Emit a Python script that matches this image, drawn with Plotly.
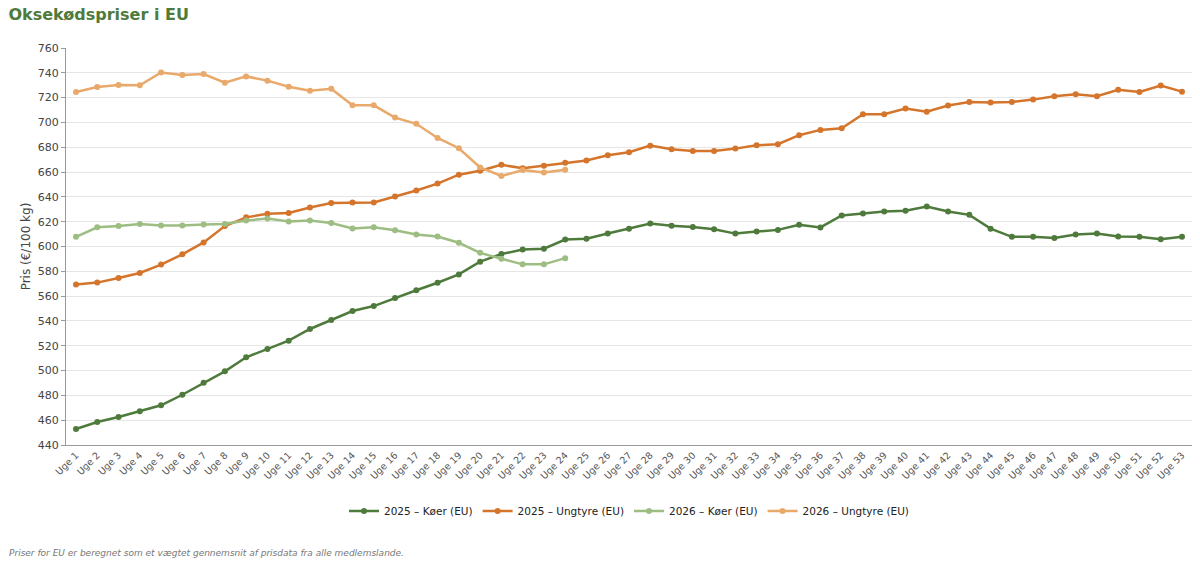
import plotly.graph_objects as go

weeks = [f"Uge {i}" for i in range(1, 54)]

koer_2025 = [452.9, 458.5, 462.6, 467.2, 472.0, 480.5, 490.2, 499.4, 510.7, 517.4,
             524.1, 533.5, 540.8, 548.0, 552.0, 558.5, 564.7, 570.8, 577.5, 587.8,
             593.9, 597.5, 598.2, 605.6, 606.3, 610.5, 614.3, 618.6, 616.7, 615.8,
             613.9, 610.4, 612.0, 613.4, 617.5, 615.4, 625.0, 626.5, 628.3, 628.9,
             632.3, 628.2, 625.5, 614.4, 607.8, 607.8, 606.9, 609.6, 610.4, 608.0,
             607.9, 605.8, 607.9]

ungtyre_2025 = [569.3, 570.9, 574.6, 578.7, 585.4, 593.7, 603.3, 616.5, 623.5, 626.4,
                627.0, 631.5, 635.0, 635.5, 635.5, 640.3, 645.1, 650.7, 657.9, 661.1,
                665.9, 663.0, 665.0, 667.5, 669.4, 673.5, 676.0, 681.3, 678.4, 677.0,
                677.0, 678.9, 681.6, 682.4, 689.7, 694.0, 695.3, 706.6, 706.6, 711.2,
                708.7, 713.6, 716.5, 716.0, 716.5, 718.4, 721.1, 722.7, 721.1, 726.4,
                724.6, 729.7, 724.8]

koer_2026 = [607.8, 615.5, 616.6, 618.2, 616.9, 616.9, 617.7, 618.2, 620.9, 622.5,
             620.1, 620.9, 619.0, 614.5, 615.5, 613.1, 609.6, 608.0, 603.0, 594.9,
             590.1, 585.6, 585.6, 590.6]

ungtyre_2026 = [724.6, 728.6, 730.2, 729.9, 740.3, 738.2, 739.0, 732.0, 737.1, 733.7,
                728.8, 725.6, 727.2, 713.8, 713.8, 703.9, 698.9, 687.5, 679.2, 663.7,
                656.8, 661.6, 659.7, 661.9]

series = [
    ("2025 \u2013 K\u00f8er (EU)", koer_2025, "#4e7a3c"),
    ("2025 \u2013 Ungtyre (EU)", ungtyre_2025, "#d4752b"),
    ("2026 \u2013 K\u00f8er (EU)", koer_2026, "#9dbd82"),
    ("2026 \u2013 Ungtyre (EU)", ungtyre_2026, "#e8a96b"),
]

fig = go.Figure()
for name, vals, color in series:
    fig.add_trace(go.Scatter(
        x=weeks[:len(vals)], y=vals, name=name, mode="lines+markers",
        line=dict(color=color, width=2.5),
        marker=dict(color=color, size=6),
    ))

fig.update_layout(
    width=1200, height=563,
    paper_bgcolor="white", plot_bgcolor="white",
    font=dict(family="DejaVu Sans", size=11, color="#444"),
    margin=dict(l=66, r=8, t=48, b=118),
    title=dict(text="<b>Oksekødspriser i EU</b>", x=0.007, xanchor="left",
               y=0.985, yanchor="top",
               font=dict(family="DejaVu Sans", size=16, color="#4e7a3c")),
    showlegend=True,
    legend=dict(orientation="h", x=0.5, xanchor="center", y=-0.13, yanchor="top",
                font=dict(size=10.5, color="#222")),
    xaxis=dict(type="category", categoryorder="array", categoryarray=weeks,
               range=[-0.47, 52.47], tickangle=-45, tickfont=dict(size=9.5, color="#555"),
               showgrid=False, showline=True, linecolor="#999", linewidth=1,
               ticks="", zeroline=False),
    yaxis=dict(range=[440, 760], dtick=20, showgrid=True, gridcolor="#e6e6e6",
               showline=True, linecolor="#999", linewidth=1, ticks="outside",
               ticklen=4, tickcolor="#999", tickfont=dict(size=11, color="#444"),
               title=dict(text="Pris (€/100 kg)", font=dict(size=12, color="#444"), standoff=4),
               zeroline=False),
)

fig.add_annotation(
    text="<i>Priser for EU er beregnet som et vægtet gennemsnit af prisdata fra alle medlemslande.</i>",
    xref="paper", yref="paper", x=-0.052, y=-0.255, xanchor="left", yanchor="top",
    showarrow=False, font=dict(size=9, color="#777"),
)

fig.write_html("out.html")
